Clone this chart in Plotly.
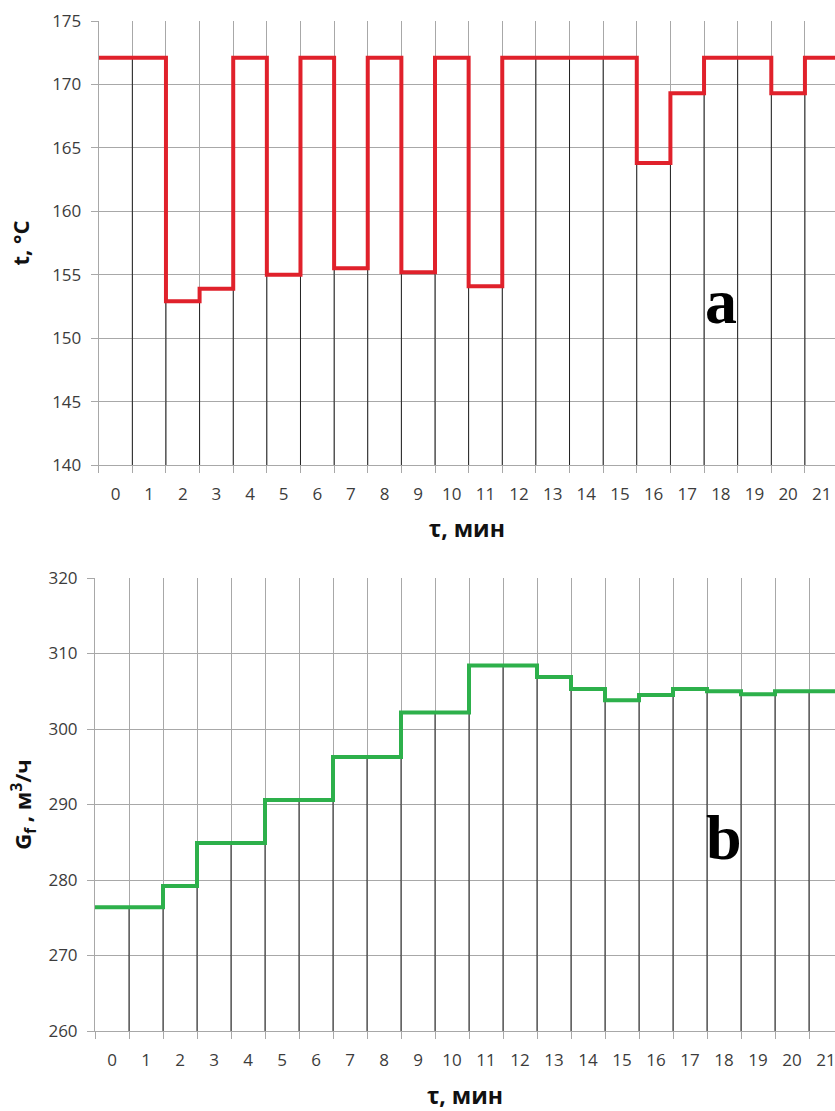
import plotly.graph_objects as go

# ---- data ----
minutes = list(range(22))
temp_c = [172.1, 172.1, 152.9, 153.9, 172.1, 155.0, 172.1, 155.5, 172.1, 155.2, 172.1,
          154.1, 172.1, 172.1, 172.1, 172.1, 163.8, 169.3, 172.1, 172.1, 169.3, 172.1]
flow_m3h = [276.4, 276.4, 279.2, 284.9, 284.9, 290.6, 290.6, 296.3, 296.3, 302.2, 302.2,
            308.4, 308.4, 306.9, 305.3, 303.8, 304.5, 305.3, 305.0, 304.6, 305.0, 305.0]
tick_labels = [str(m) for m in minutes]

T_RANGE = [140, 175]
G_RANGE = [260, 320]

RED = "#E0212B"
GREEN = "#2DB04B"
GRID = "#A8A8A8"
DROP = "#222222"
TXT = "#3c3c3c"
FONT = "Open Sans"


def step_xy(cats, vals):
    xs = [c - 0.5 for c in cats] + [cats[-1] + 0.5]
    ys = list(vals) + [vals[-1]]
    return xs, ys


def drop_xy(cats, vals, ymin):
    xs, ys = [], []
    for i in range(len(cats) - 1):
        b = cats[i] + 0.5
        xs += [b, b, None]
        ys += [ymin, min(vals[i], vals[i + 1]), None]
    return xs, ys


fig = go.Figure()

# top panel
dx, dy = drop_xy(minutes, temp_c, T_RANGE[0])
fig.add_trace(go.Scatter(x=dx, y=dy, mode="lines", line=dict(color=DROP, width=1),
                         hoverinfo="skip", showlegend=False, xaxis="x", yaxis="y"))
sx, sy = step_xy(minutes, temp_c)
fig.add_trace(go.Scatter(x=sx, y=sy, mode="lines", line=dict(color=RED, width=4, shape="hv"),
                         showlegend=False, xaxis="x", yaxis="y"))

# bottom panel
dx, dy = drop_xy(minutes, flow_m3h, G_RANGE[0])
fig.add_trace(go.Scatter(x=dx, y=dy, mode="lines", line=dict(color=DROP, width=1),
                         hoverinfo="skip", showlegend=False, xaxis="x2", yaxis="y2"))
sx, sy = step_xy(minutes, flow_m3h)
fig.add_trace(go.Scatter(x=sx, y=sy, mode="lines", line=dict(color=GREEN, width=4, shape="hv"),
                         showlegend=False, xaxis="x2", yaxis="y2"))

W, H = 835, 1111


def xaxis_cfg(left_px, cat_w, title_standoff, anchor):
    right_cat = (W - left_px) / cat_w - 0.5
    return dict(
        anchor=anchor,
        domain=[left_px / W, 1.0],
        range=[-0.5, right_cat],
        tickmode="array", tickvals=minutes, ticktext=tick_labels,
        ticks="", showgrid=False, zeroline=False,
        showline=True, linecolor=GRID, linewidth=1,
        ticklabelstandoff=14, ticklabeloverflow="allow",
        tickfont=dict(family=FONT, size=17, color=TXT),
        minor=dict(tickvals=[m + 0.5 for m in [-1] + minutes], showgrid=True,
                   gridcolor=GRID, gridwidth=1, ticks="outside", ticklen=7,
                   tickcolor=GRID, tickwidth=1),
        title=dict(text="<b>τ, мин</b>", font=dict(family=FONT, size=23, color="#111"),
                   standoff=title_standoff),
        automargin=False,
    )


def yaxis_cfg(top_px, bot_px, rng, dtick, title, standoff, anchor):
    return dict(
        anchor=anchor,
        domain=[(H - bot_px) / H, (H - top_px) / H],
        range=rng, dtick=dtick, tick0=rng[0],
        showgrid=True, gridcolor=GRID, gridwidth=1, zeroline=False,
        showline=True, linecolor=GRID, linewidth=1,
        ticks="outside", ticklen=7, tickcolor=GRID,
        ticklabelstandoff=6,
        tickfont=dict(family=FONT, size=17, color=TXT),
        title=dict(text=title, font=dict(family=FONT, size=22, color="#111"), standoff=standoff),
        automargin=False,
    )


fig.update_layout(
    width=W, height=H,
    margin=dict(l=0, r=0, t=0, b=0),
    plot_bgcolor="white", paper_bgcolor="white",
    xaxis=xaxis_cfg(98.7, 33.63, 16, "y"),
    yaxis=yaxis_cfg(21, 465, T_RANGE, 5, "<b>t, °C</b>", 16, "x"),
    xaxis2=xaxis_cfg(95.0, 34.0, 30, "y2"),
    yaxis2=yaxis_cfg(578, 1031, G_RANGE, 10, "<b>G<sub>f</sub> , м<sup>3</sup>/ч</b>", 10, "x2"),
    annotations=[
        dict(text="<b>a</b>", x=18, y=152.9, xref="x", yref="y", showarrow=False,
             font=dict(family="Liberation Serif", size=64, color="black")),
        dict(text="<b>b</b>", x=18, y=285.6, xref="x2", yref="y2", showarrow=False,
             font=dict(family="Liberation Serif", size=64, color="black")),
    ],
)

fig.write_html(
    "out.html",
    config={"displayModeBar": False},
    post_script="document.body.style.margin='0';document.body.style.overflow='hidden';",
)
